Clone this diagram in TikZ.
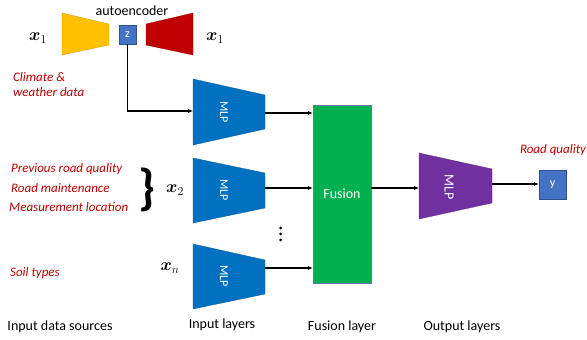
\documentclass[tikz,border=0pt]{standalone}
\usepackage{amsmath}
\usepackage{bm}
\usepackage{fontspec}
\setmainfont{Carlito}
\usetikzlibrary{arrows.meta}
\definecolor{encY}{HTML}{FFC000}
\definecolor{decR}{HTML}{C00000}
\definecolor{boxB}{HTML}{4472C4}
\definecolor{mlpB}{HTML}{0070C0}
\definecolor{fusG}{HTML}{00B050}
\definecolor{mlpP}{HTML}{7030A0}
\definecolor{txtR}{HTML}{C00000}
\tikzset{
  arr/.style={draw=black, line width=1.1pt, -{Latex[length=5pt,width=4.5pt]}},
  srcR/.style={text=txtR, font=\fontsize{13}{15}\selectfont\itshape, anchor=west, inner sep=0pt},
  captxt/.style={font=\fontsize{14}{16}\selectfont, inner sep=0pt},
  mathlbl/.style={font=\fontsize{17}{19}\selectfont, inner sep=0pt},
  smallbox/.style={fill=boxB, draw=boxB!70!black, line width=0.4pt, text=white, font=\fontsize{12}{14}\selectfont, inner sep=0pt},
  mlptxt/.style={text=white, rotate=-90, font=\fontsize{12}{14}\selectfont, inner sep=0pt},
}
\begin{document}
\begin{tikzpicture}[x=1pt,y=-1pt]
\useasboundingbox (0,0) rectangle (587,340);
% autoencoder
\filldraw[fill=encY, draw=encY!80!black, line width=0.3pt] (62,13) -- (109,24) -- (109,45) -- (62,55) -- cycle;
\filldraw[fill=decR, draw=decR!80!black, line width=0.3pt] (146,24) -- (193,13) -- (193,55) -- (146,45) -- cycle;
\node[smallbox, minimum width=17pt, minimum height=19pt] (z) at (127.5,34.5) {z};
\node[captxt] (ae) at (132,11) {autoencoder};
\node[mathlbl] (x1a) at (38,38) {$\bm{x}_1$};
\node[mathlbl] (x1b) at (215,38) {$\bm{x}_1$};
% source texts
\node[srcR] (t1) at (13,77) {Climate \&};
\node[srcR] (t2) at (13,92) {weather data};
\node[srcR] (t3) at (11,169) {Previous road quality};
\node[srcR] (t4) at (11,188) {Road maintenance};
\node[srcR] (t5) at (9,207) {Measurement location};
\node[srcR] (t6) at (10,273) {Soil types};
\node[inner sep=0pt, font=\fontsize{50}{50}\selectfont\bfseries] (br) at (147,190) {\}};
\node[mathlbl] (x2) at (175,190) {$\bm{x}_2$};
\node[mathlbl] (xn) at (170,268) {$\bm{x}_n$};
% input MLPs
\filldraw[fill=mlpB, draw=mlpB!80!black, line width=0.3pt] (193,79) -- (265,95) -- (265,129) -- (193,145) -- cycle;
\node[mlptxt] (m1) at (224,112) {MLP};
\filldraw[fill=mlpB, draw=mlpB!80!black, line width=0.3pt] (193,158) -- (265,173) -- (265,208) -- (193,223) -- cycle;
\node[mlptxt] (m2) at (224,190) {MLP};
\filldraw[fill=mlpB, draw=mlpB!80!black, line width=0.3pt] (193,244) -- (265,260) -- (265,294) -- (193,309) -- cycle;
\node[mlptxt] (m3) at (224,276) {MLP};
\coordinate (m1w) at (193,111);
\coordinate (m1e) at (265,113);
\coordinate (m2e) at (265,188);
\coordinate (m3e) at (265,268);
\fill (280.5,228) circle (1.5pt) (280.5,234) circle (1.5pt) (280.5,240) circle (1.5pt);
% fusion
\node[fill=fusG, draw=boxB!60!gray, line width=0.5pt, minimum width=58pt, minimum height=178pt, inner sep=0pt, text=white, font=\fontsize{14}{16}\selectfont] (fus) at (342,194) {Fusion};
% output MLP
\filldraw[fill=mlpP, draw=mlpP!80!black, line width=0.3pt] (419,153) -- (492,169) -- (492,203) -- (419,219) -- cycle;
\node[mlptxt, font=\fontsize{14}{16}\selectfont] (mo) at (449,187) {MLP};
\coordinate (mow) at (419,188);
\coordinate (moe) at (492,184);
\node[smallbox, minimum width=27pt, minimum height=29pt] (y) at (552.5,184.5) {y};
\node[srcR, anchor=center] (rq) at (553,150) {Road quality};
% connectors
\draw[arr] (z.south) |- (m1w);
\draw[arr] (m1e) -- (m1e -| fus.west);
\draw[arr] (m2e) -- (m2e -| fus.west);
\draw[arr] (m3e) -- (m3e -| fus.west);
\draw[arr] (fus.east |- mow) -- (mow);
\draw[arr] (moe) -- (moe -| y.west);
% bottom captions
\node[captxt] (c1) at (60,327) {Input data sources};
\node[captxt] (c2) at (222,325) {Input layers};
\node[captxt] (c3) at (342,327) {Fusion layer};
\node[captxt] (c4) at (462,327) {Output layers};
\end{tikzpicture}
\end{document}
